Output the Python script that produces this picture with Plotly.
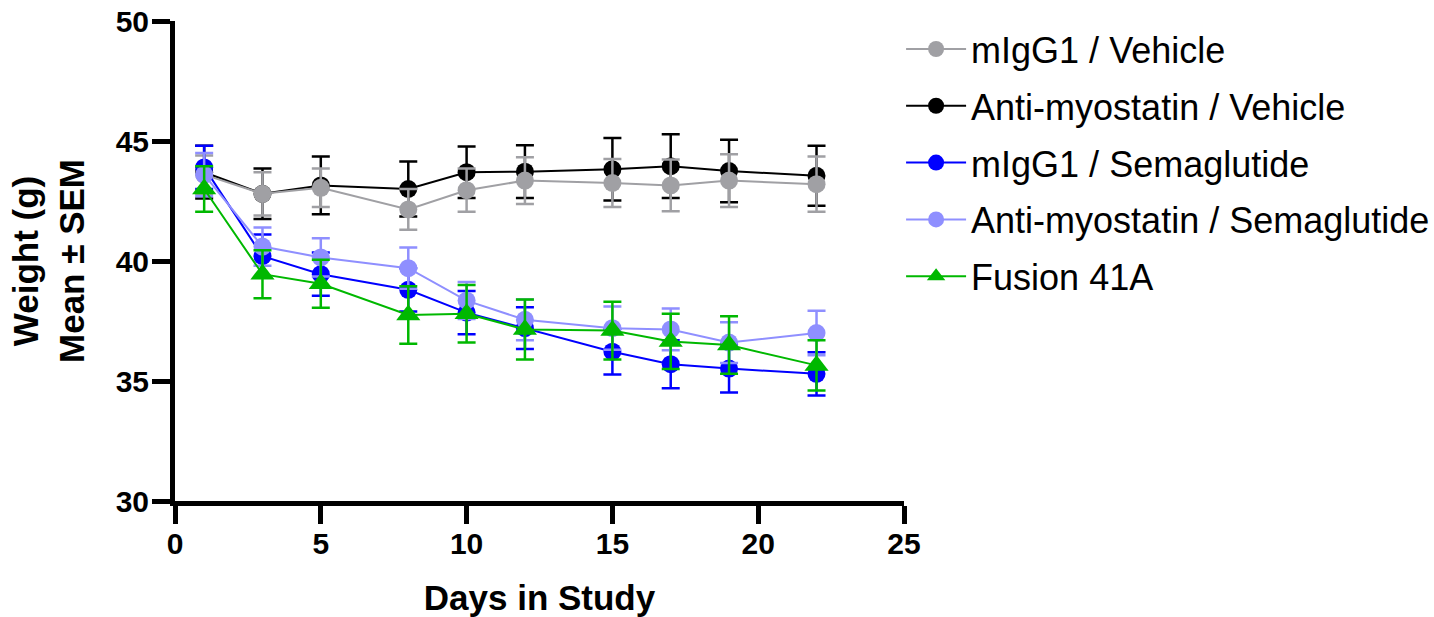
import plotly.graph_objects as go

days = [1, 3, 5, 8, 10, 12, 15, 17, 19, 22]

series_names = ["mIgG1 / Vehicle", "Anti-myostatin / Vehicle", "mIgG1 / Semaglutide",
                "Anti-myostatin / Semaglutide", "Fusion 41A"]

migg1_vehicle = [43.6, 42.8, 43.05, 42.15, 42.95, 43.35, 43.25, 43.15, 43.35, 43.2]
migg1_vehicle_sem = [0.8, 0.9, 0.8, 0.85, 0.9, 0.97, 1.0, 1.08, 1.1, 1.15]

antimyo_vehicle = [43.7, 42.8, 43.15, 43.0, 43.7, 43.72, 43.82, 43.95, 43.75, 43.55]
antimyo_vehicle_sem = [1.1, 1.05, 1.2, 1.15, 1.07, 1.1, 1.3, 1.33, 1.3, 1.25]

migg1_sema = [43.9, 40.2, 39.45, 38.8, 37.85, 37.2, 36.22, 35.7, 35.52, 35.3]
migg1_sema_sem = [0.9, 0.9, 0.9, 0.9, 0.9, 0.87, 0.95, 1.0, 1.0, 0.9]

antimyo_sema = [43.6, 40.6, 40.15, 39.7, 38.35, 37.55, 37.2, 37.15, 36.6, 37.0]
antimyo_sema_sem = [0.9, 0.8, 0.8, 0.86, 0.77, 0.85, 0.9, 0.87, 0.85, 0.93]

fusion_41a = [43.0, 39.45, 39.05, 37.75, 37.8, 37.15, 37.1, 36.65, 36.5, 35.65]
fusion_41a_sem = [0.95, 1.0, 1.0, 1.2, 1.2, 1.25, 1.2, 1.15, 1.2, 1.05]

x_ticks = [0, 5, 10, 15, 20, 25]
y_ticks = [30, 35, 40, 45, 50]

FONT = "Arial, Liberation Sans, sans-serif"

# draw order (bottom -> top) with legend rank
traces = [
    (series_names[1], antimyo_vehicle, antimyo_vehicle_sem, "#000000", "circle", 2),
    (series_names[0], migg1_vehicle, migg1_vehicle_sem, "#A0A0A4", "circle", 1),
    (series_names[2], migg1_sema, migg1_sema_sem, "#0000FF", "circle", 3),
    (series_names[3], antimyo_sema, antimyo_sema_sem, "#8F8FFF", "circle", 4),
    (series_names[4], fusion_41a, fusion_41a_sem, "#00B800", "triangle-up", 5),
]

fig = go.Figure()
for name, vals, sem, color, sym, rank in traces:
    fig.add_trace(go.Scatter(
        x=days, y=vals, name=name, mode="lines+markers",
        line=dict(color=color, width=2),
        marker=dict(color=color, size=18 if sym == "circle" else 21, symbol=sym),
        error_y=dict(type="data", array=sem, visible=True, color=color,
                     thickness=2.5, width=9),
        legendrank=rank, legendgroup=name,
    ))

axis_common = dict(
    showline=True, linecolor="black", linewidth=5,
    ticks="outside", ticklen=18, tickwidth=5, tickcolor="black",
    showgrid=False, zeroline=False,
    tickfont=dict(family=FONT, size=30, color="black", weight="bold"),
)

fig.update_xaxes(range=[0, 25], tickvals=x_ticks, ticklabelstandoff=-6,
                 title=dict(text="<b>Days in Study</b>", font=dict(family=FONT, size=35, color="black"),
                            standoff=28),
                 **axis_common)
fig.update_yaxes(range=[30, 50], tickvals=y_ticks, ticklabelstandoff=-3,
                 title=dict(text="<b>Weight (g)<br>Mean ± SEM</b>", font=dict(family=FONT, size=35, color="black"),
                            standoff=22),
                 **axis_common)

fig.update_layout(
    width=1434, height=617,
    margin=dict(l=175, r=530, t=21, b=116, autoexpand=False),
    plot_bgcolor="white", paper_bgcolor="white",
    showlegend=True,
    legend=dict(x=0.996, y=1.004, xanchor="left", yanchor="top",
                font=dict(family=FONT, size=36, color="black"),
                tracegroupgap=7, itemwidth=60, bgcolor="rgba(0,0,0,0)"),
)

fig.write_html("out.html")
